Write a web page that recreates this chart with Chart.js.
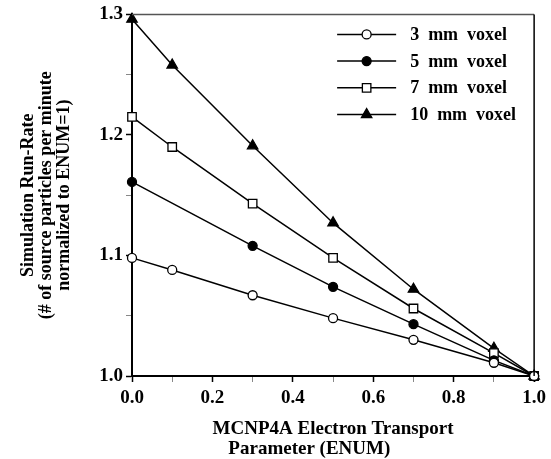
<!DOCTYPE html>
<html>
<head>
<meta charset="utf-8">
<script src="https://cdn.jsdelivr.net/npm/chart.js@4"></script>
<style>
  html, body { margin: 0; padding: 0; background: #fff; }
  #wrap { width: 551px; height: 459px; }
</style>
</head>
<body>
<div id="wrap"><canvas id="chart" width="551" height="459"></canvas></div>
<script>
// ENUM values (x) and normalized run-rates (y) for each voxel size
const enum3mm = [0, 0.1, 0.3, 0.5, 0.7, 0.9, 1.0];
const rate3mm = [1.098, 1.088, 1.067, 1.048, 1.030, 1.011, 1.0];

const enum5mm = [0, 0.3, 0.5, 0.7, 0.9, 1.0];
const rate5mm = [1.161, 1.108, 1.074, 1.043, 1.013, 1.0];

const enum7mm = [0, 0.1, 0.3, 0.5, 0.7, 0.9, 1.0];
const rate7mm = [1.215, 1.190, 1.143, 1.098, 1.056, 1.019, 1.0];

const enum10mm = [0, 0.1, 0.3, 0.5, 0.7, 0.9, 1.0];
const rate10mm = [1.296, 1.258, 1.191, 1.127, 1.072, 1.023, 1.0];

const seriesLabels = ['3  mm  voxel', '5  mm  voxel', '7  mm  voxel', '10  mm  voxel'];

const xTitle = ['MCNP4A Electron Transport', 'Parameter (ENUM)          '];
const yTitle = ['Simulation Run-Rate', '(# of source particles per minute', 'normalized to ENUM=1)'];

const serif = "'Liberation Serif', 'DejaVu Serif', serif";

function toPoints(xs, ys) {
    return xs.map((x, i) => ({ x: x, y: ys[i] }));
}

function makeSet(label, xs, ys, style, radius, fill) {
    return {
        label: label,
        data: toPoints(xs, ys),
        borderColor: '#000',
        borderWidth: 1.5,
        pointStyle: style,
        pointRadius: radius,
        pointBorderWidth: 1.3,
        pointBorderColor: '#000',
        pointBackgroundColor: fill,
        tension: 0,
        clip: false
    };
}

// draws the top/right frame and the in-plot legend
const framePlugin = {
    id: 'frame',
    afterDatasetsDraw(chart) {
        const { ctx, chartArea: a } = chart;
        ctx.save();
        ctx.lineWidth = 1.5;
        ctx.strokeStyle = '#555';
        ctx.beginPath();
        ctx.moveTo(a.left, a.top);
        ctx.lineTo(a.right, a.top);
        ctx.stroke();
        ctx.strokeStyle = '#000';
        ctx.beginPath();
        ctx.moveTo(a.right, a.top);
        ctx.lineTo(a.right, a.bottom);
        ctx.stroke();

        // legend
        const x0 = a.right - 197, x1 = a.right - 138, tx = a.right - 124;
        ctx.font = 'bold 18px ' + serif;
        ctx.textBaseline = 'middle';
        ctx.textAlign = 'left';
        chart.data.datasets.forEach((ds, i) => {
            const y = a.top + 20 + i * 26.7;
            ctx.strokeStyle = '#000';
            ctx.lineWidth = 1.5;
            ctx.beginPath();
            ctx.moveTo(x0, y);
            ctx.lineTo(x1, y);
            ctx.stroke();
            ctx.fillStyle = ds.pointBackgroundColor;
            ctx.strokeStyle = '#000';
            ctx.lineWidth = ds.pointBorderWidth;
            Chart.helpers.drawPoint(ctx, {
                pointStyle: ds.pointStyle,
                radius: ds.pointRadius,
                borderWidth: ds.pointBorderWidth,
                rotation: 0
            }, (x0 + x1) / 2, y);
            ctx.fillStyle = '#000';
            ctx.fillText(ds.label, tx, y + 1);
        });
        ctx.restore();
    }
};

new Chart(document.getElementById('chart'), {
    type: 'line',
    data: {
        datasets: [
            makeSet(seriesLabels[0], enum3mm, rate3mm, 'circle', 4.5, '#fff'),
            makeSet(seriesLabels[1], enum5mm, rate5mm, 'circle', 4.5, '#000'),
            makeSet(seriesLabels[2], enum7mm, rate7mm, 'rect', 6, '#fff'),
            makeSet(seriesLabels[3], enum10mm, rate10mm, 'triangle', 6, '#000')
        ]
    },
    options: {
        responsive: false,
        animation: false,
        layout: { padding: { top: 13, right: 16, left: 0, bottom: 0 } },
        plugins: {
            legend: { display: false },
            tooltip: { enabled: false }
        },
        scales: {
            x: {
                type: 'linear',
                min: 0,
                max: 1,
                afterFit: s => { s.height = 83; },
                ticks: {
                    stepSize: 0.1,
                    autoSkip: false,
                    maxRotation: 0,
                    padding: 5,
                    color: '#000',
                    font: { family: serif, size: 19, weight: 'bold' },
                    callback: v => (Math.round(v * 10) % 2 === 0 ? v.toFixed(1) : '')
                },
                grid: {
                    drawOnChartArea: false,
                    tickLength: 6,
                    tickColor: c => (Math.round(c.tick.value * 10) % 2 === 0 ? '#000' : '#888'),
                    tickWidth: c => (Math.round(c.tick.value * 10) % 2 === 0 ? 1.5 : 1)
                },
                border: { display: true, color: '#000', width: 2 },
                title: {
                    display: true,
                    text: xTitle,
                    color: '#000',
                    font: { family: serif, size: 19, weight: 'bold', lineHeight: 1.05 },
                    padding: { top: 0, bottom: 0 }
                }
            },
            y: {
                min: 1.0,
                max: 1.3,
                afterFit: s => { s.width = 132; },
                ticks: {
                    stepSize: 0.05,
                    autoSkip: false,
                    padding: 3,
                    color: '#000',
                    font: { family: serif, size: 19, weight: 'bold' },
                    callback: v => (Math.round(v * 100) % 10 === 0 ? v.toFixed(1) : '')
                },
                grid: {
                    drawOnChartArea: false,
                    tickLength: 6,
                    tickColor: c => (Math.round(c.tick.value * 100) % 10 === 0 ? '#000' : '#888'),
                    tickWidth: c => (Math.round(c.tick.value * 100) % 10 === 0 ? 1.5 : 1)
                },
                border: { display: true, color: '#000', width: 2 },
                title: {
                    display: true,
                    text: yTitle,
                    color: '#000',
                    font: { family: serif, size: 18, weight: 'bold', lineHeight: 1.0 },
                    padding: { top: 19, bottom: 0 }
                }
            }
        }
    },
    plugins: [framePlugin]
});
</script>
</body>
</html>
